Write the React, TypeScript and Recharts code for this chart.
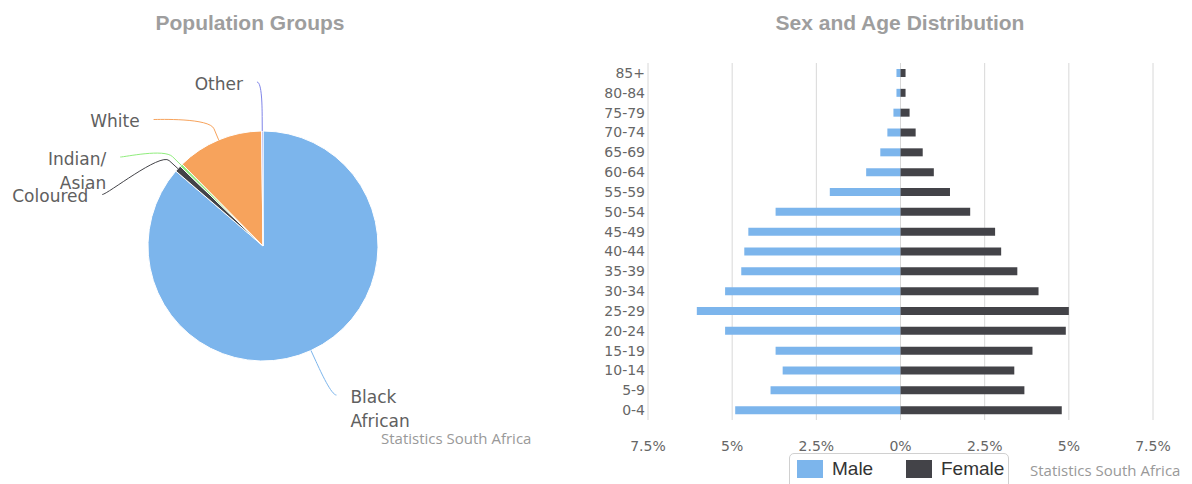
import { PieChart, Pie, Cell, BarChart, Bar, XAxis, YAxis, CartesianGrid } from 'recharts'

const GROUPS = ['Black African', 'Coloured', 'Indian/Asian', 'White', 'Other']
const GROUP_SHARE = [86.3, 0.9, 0.4, 12.2, 0.2]
const GROUP_COLORS = ['#7cb5ec', '#434348', '#90ed7d', '#f7a35c', '#8085e9']

const AGES = ['0-4', '5-9', '10-14', '15-19', '20-24', '25-29', '30-34', '35-39', '40-44', '45-49', '50-54', '55-59', '60-64', '65-69', '70-74', '75-79', '80-84', '85+']
const MALE = [4.91, 3.86, 3.5, 3.71, 5.21, 6.05, 5.21, 4.73, 4.64, 4.52, 3.71, 2.1, 1.02, 0.6, 0.39, 0.21, 0.12, 0.12]
const FEMALE = [4.79, 3.68, 3.38, 3.92, 4.91, 5.0, 4.1, 3.47, 2.99, 2.81, 2.07, 1.47, 0.99, 0.66, 0.45, 0.27, 0.15, 0.15]
const X_TICKS = [-7.5, -5, -2.5, 0, 2.5, 5, 7.5]

const MALE_COLOR = '#7cb5ec'
const FEMALE_COLOR = '#434348'
const AXIS_FONT = '"DejaVu Sans", Verdana, sans-serif'
const TITLE_FONT = '"Liberation Sans", Arial, sans-serif'

const pieData = GROUPS.map((name, i) => ({ name, value: GROUP_SHARE[i] }))
const pyramidData = AGES.map((age, i) => ({ age, male: -MALE[i], female: FEMALE[i] }))

// highcharts-like label placement: natural spot on a ring, pushed down to avoid overlap
function layoutPieLabels(cx: number, cy: number, r: number) {
  const ring = r + 49
  const gap = 37.5
  const total = GROUP_SHARE.reduce((a, b) => a + b, 0)
  let cum = 0
  const items = GROUP_SHARE.map((v, i) => {
    const mid = 90 - ((cum + v / 2) / total) * 360
    cum += v
    const rad = (mid * Math.PI) / 180
    const cos = Math.cos(rad)
    const sin = Math.sin(rad)
    return { i, cos, sin, left: cos < 0, x: 0, y: cy - ring * sin }
  })
  for (const side of [true, false]) {
    const list = items.filter((it) => it.left === side).sort((a, b) => a.y - b.y)
    for (let k = 1; k < list.length; k++) {
      if (list[k].y < list[k - 1].y + gap) list[k].y = list[k - 1].y + gap
    }
  }
  items.forEach((it) => {
    const dy = it.y - cy
    const dx = Math.sqrt(Math.max(ring * ring - dy * dy, 0))
    it.x = cx + (it.left ? -dx : dx)
  })
  return items
}

function wrapName(name: string) {
  if (name.length <= 9) return [name]
  return name.replace('/', '/ ').split(' ')
}

const renderPieLabel = (props: any) => {
  const { cx, cy, outerRadius, index } = props
  const it = layoutPieLabels(cx, cy, outerRadius)[index]
  const color = GROUP_COLORS[index]
  const s = it.left ? -1 : 1
  const bx = cx + (outerRadius + 12) * it.cos
  const by = cy - (outerRadius + 12) * it.sin
  const ex = cx + outerRadius * it.cos
  const ey = cy - outerRadius * it.sin
  const path = `M ${it.x + s * 5} ${it.y} C ${it.x} ${it.y} ${2 * bx - ex} ${2 * by - ey} ${bx} ${by} L ${ex} ${ey}`
  const lines = wrapName(GROUPS[index])
  const tx = it.x + s * 19
  return (
    <g key={`lbl-${index}`}>
      <path d={path} fill="none" stroke={color} strokeWidth={1} />
      <text x={tx} y={it.y + 7.5} textAnchor={it.left ? 'end' : 'start'} fontFamily={AXIS_FONT} fontSize={17} fill="#606060">
        {lines.map((ln, k) => (
          <tspan key={k} x={tx} dy={k === 0 ? 0 : 24}>
            {ln}
          </tspan>
        ))}
      </text>
    </g>
  )
}

const titleStyle: React.CSSProperties = {
  position: 'absolute',
  top: 11,
  fontFamily: TITLE_FONT,
  fontWeight: 'bold',
  fontSize: 21,
  color: '#9e9e9e',
  textAlign: 'center',
}

const creditStyle: React.CSSProperties = {
  position: 'absolute',
  fontFamily: '"Open Sans", sans-serif',
  fontSize: 15,
  lineHeight: '20px',
  color: '#999',
  whiteSpace: 'nowrap',
}

export default function App() {
  return (
    <div style={{ position: 'absolute', left: 0, top: 0, width: 1192, height: 484, overflow: 'hidden', background: '#fff' }}>
      <div style={{ ...titleStyle, left: 0, width: 500 }}>Population Groups</div>
      <div style={{ position: 'absolute', left: 0, top: 0 }}>
        <PieChart width={560} height={484} margin={{ top: 0, right: 0, bottom: 0, left: 0 }}>
          <Pie
            data={pieData}
            dataKey="value"
            nameKey="name"
            cx={263}
            cy={246}
            outerRadius={115}
            startAngle={90}
            endAngle={-270}
            stroke="#fff"
            strokeWidth={1}
            label={renderPieLabel}
            labelLine={false}
            isAnimationActive={false}
          >
            {pieData.map((_, i) => (
              <Cell key={i} fill={GROUP_COLORS[i]} />
            ))}
          </Pie>
        </PieChart>
      </div>
      <div style={{ ...creditStyle, left: 381, top: 428 }}>Statistics South Africa</div>

      <div style={{ ...titleStyle, left: 650, width: 500 }}>Sex and Age Distribution</div>
      <div style={{ position: 'absolute', left: 590, top: 0 }}>
        <BarChart
          width={602}
          height={484}
          data={pyramidData}
          layout="vertical"
          stackOffset="sign"
          margin={{ top: 63, right: 39, bottom: 34, left: 0 }}
        >
          <CartesianGrid horizontal={false} stroke="#d8d8d8" />
          <XAxis
            type="number"
            domain={[-7.5, 7.5]}
            ticks={X_TICKS}
            tickFormatter={(v: number) => `${Math.abs(v)}%`}
            axisLine={false}
            tickLine={false}
            tickSize={0}
            tickMargin={21}
            height={30}
            tick={{ fontFamily: AXIS_FONT, fontSize: 14, fill: '#666' }}
          />
          <YAxis
            type="category"
            dataKey="age"
            reversed
            interval={0}
            width={58}
            axisLine={false}
            tickLine={false}
            tickSize={0}
            tickMargin={3}
            tick={{ fontFamily: AXIS_FONT, fontSize: 14, fill: '#666' }}
          />
          <Bar dataKey="male" name="Male" stackId="pop" fill={MALE_COLOR} barSize={8} isAnimationActive={false} />
          <Bar dataKey="female" name="Female" stackId="pop" fill={FEMALE_COLOR} barSize={8} isAnimationActive={false} />
        </BarChart>
      </div>

      <div
        style={{
          position: 'absolute',
          left: 789,
          top: 453,
          width: 218,
          height: 40,
          border: '1px solid #d0d0d0',
          borderRadius: 5,
          fontFamily: TITLE_FONT,
          fontSize: 19,
          color: '#333',
        }}
      >
        {[
          { label: 'Male', color: MALE_COLOR, left: 7 },
          { label: 'Female', color: FEMALE_COLOR, left: 116 },
        ].map((item) => (
          <div key={item.label} style={{ position: 'absolute', left: item.left, top: 6, display: 'flex', alignItems: 'center' }}>
            <div style={{ width: 26, height: 18, background: item.color }} />
            <span style={{ marginLeft: 9, lineHeight: '18px' }}>{item.label}</span>
          </div>
        ))}
      </div>
      <div style={{ ...creditStyle, left: 1030, top: 460 }}>Statistics South Africa</div>
    </div>
  )
}
